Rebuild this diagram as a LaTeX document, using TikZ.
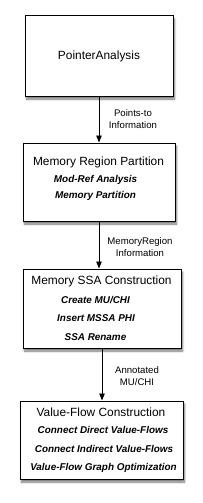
\documentclass[tikz,border=0pt]{standalone}
\usepackage{fontspec}
\setmainfont{Liberation Sans}
\usetikzlibrary{arrows.meta,shadows.blur}

\begin{document}
\begin{tikzpicture}[x=1pt,y=-1pt,>={Triangle[length=7pt,width=5.5pt]},
  stage/.style={draw,line width=1pt,fill=white,inner sep=0pt,
    blur shadow={shadow xshift=1.5pt,shadow yshift=-3pt,shadow blur steps=6,shadow opacity=55}},
  title/.style={font=\fontsize{11.9}{14}\selectfont},
  task/.style={font=\fontsize{9.9}{12}\selectfont\bfseries\itshape},
  note/.style={font=\fontsize{9.6}{12}\selectfont,align=center}]
\useasboundingbox (0,0) rectangle (203,503);
% stages
\node[stage,minimum width=148pt,minimum height=80pt] (s1) at (99,56) {};
\node[stage,minimum width=152pt,minimum height=78pt] (s2) at (99,182) {};
\node[stage,minimum width=158pt,minimum height=79pt] (s3) at (102,308.5) {};
\node[stage,minimum width=163pt,minimum height=78pt] (s4) at (101.5,440) {};
% titles
\node[title] (t1) at (99,56) {PointerAnalysis};
\node[title] (t2) at (98.5,162) {Memory Region Partition};
\node[title] (t3) at (101.5,281) {Memory SSA Construction};
\node[title] (t4) at (101,412) {Value-Flow Construction};
% tasks
\foreach \n/\x/\y/\txt in {a/95.5/180/Mod-Ref Analysis,b/95.5/195.5/Memory Partition}{
  \node[task] (m\n) at (\x,\y) {\txt};}
\foreach \n/\x/\y/\txt in {a/95.5/300/{Create MU/CHI},b/96/318/Insert MSSA PHI,c/95.5/337/SSA Rename}{
  \node[task] (s\n) at (\x,\y) {\txt};}
\foreach \n/\x/\y/\txt in {a/103/430/Connect Direct Value-Flows,b/104/449/Connect Indirect Value-Flows,c/103.5/468/Value-Flow Graph Optimization}{
  \node[task] (v\n) at (\x,\y) {\txt};}
% flows
\draw[->,line width=0.9pt] (s1.south) -- (s1.south |- s2.north);
\draw[->,line width=0.9pt] (s2.south) -- (s2.south |- s3.north);
\draw[->,line width=0.9pt] (s3.south) -- (s3.south |- s4.north);
\node[note] (n1) at (133,119) {Points-to\\Information};
\node[note] (n2) at (140,247) {MemoryRegion\\Information};
\node[note] (n3) at (137,376) {Annotated\\MU/CHI};
\end{tikzpicture}
\end{document}
